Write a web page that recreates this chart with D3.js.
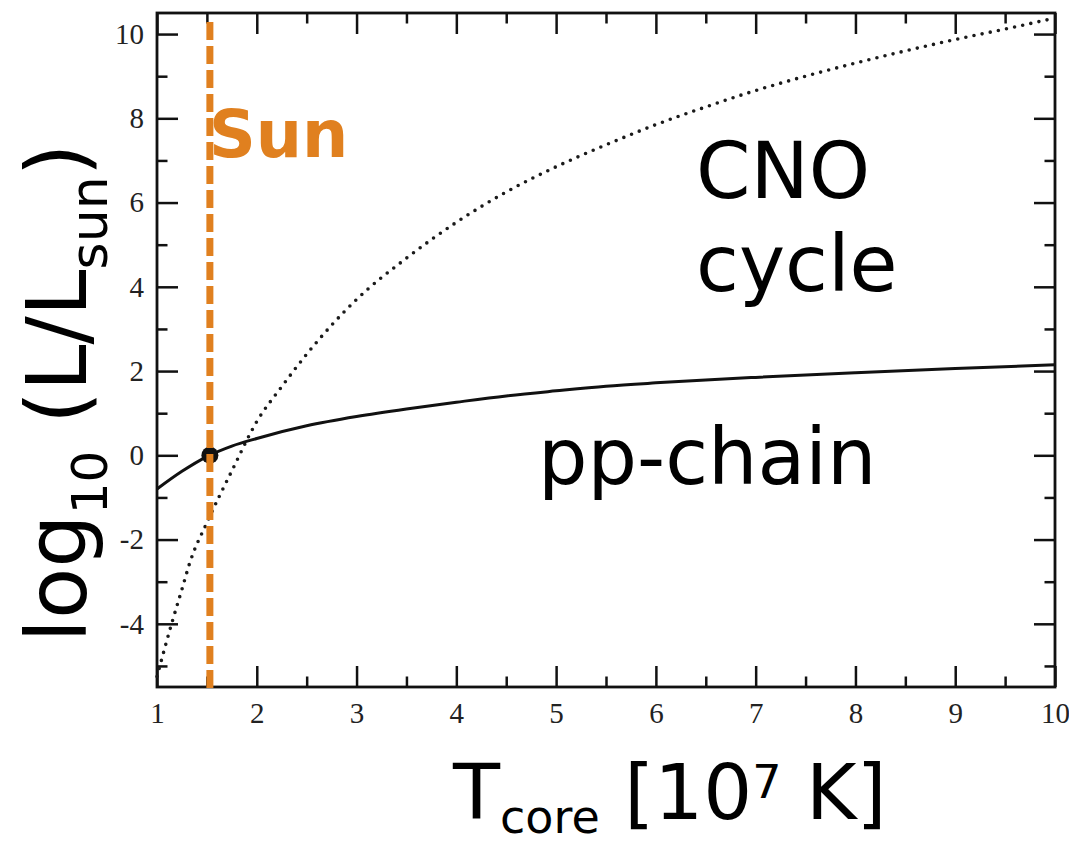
<!DOCTYPE html>
<html>
<head>
<meta charset="utf-8">
<script src="https://cdn.jsdelivr.net/npm/d3@7"></script>
<style>
  html, body { margin: 0; padding: 0; background: #fff; }
  svg { display: block; }
</style>
</head>
<body>
<div id="chart"></div>
<script>
// core temperature in units of 1e7 K
var tempPP = [1.0, 1.25, 1.5, 1.75, 2.0, 2.5, 3.0, 3.5, 4.0, 4.5, 5.0, 5.5, 6.0, 7.0, 8.0, 9.0, 10.0];
var lumPP = [-0.80, -0.38, -0.03, 0.22, 0.40, 0.70, 0.92, 1.10, 1.26, 1.41, 1.53, 1.64, 1.72, 1.85, 1.96, 2.06, 2.15];

var tempCNO = [1.0, 1.15, 1.25, 1.33, 1.5, 1.75, 2.0, 2.25, 2.5, 3.0, 3.5, 4.0, 4.5, 5.0, 5.5, 6.0, 6.5, 7.0, 7.5, 8.0, 8.5, 9.0, 9.5, 10.0];
var lumCNO = [-5.25, -3.97, -3.18, -2.54, -1.60, -0.37, 0.80, 1.63, 2.40, 3.70, 4.68, 5.53, 6.25, 6.85, 7.37, 7.85, 8.27, 8.66, 9.00, 9.31, 9.60, 9.87, 10.12, 10.38];

var sunTemp = 1.53;
var sunLum = 0;

var xTicks = [1, 2, 3, 4, 5, 6, 7, 8, 9, 10];
var xMinorTicks = [1.5, 2.5, 3.5, 4.5, 5.5, 6.5, 7.5, 8.5, 9.5];
var yTicks = [-4, -2, 0, 2, 4, 6, 8, 10];
var yTickLabels = ["-4", "-2", "0", "2", "4", "6", "8", "10"];
var yMinorTicks = [-5, -3, -1, 1, 3, 5, 7, 9];

var W = 1069, H = 841;
var plotLeft = 157, plotRight = 1055, plotTop = 13, plotBottom = 687;
var orange = "#e0801f";

var svg = d3.select("#chart")
  .append("svg")
  .attr("width", W)
  .attr("height", H);

var x = d3.scaleLinear().domain([1, 10]).range([plotLeft, plotRight]);
var y = d3.scaleLinear().domain([-5.5, 10.5]).range([plotBottom, plotTop]);

// ticks on all four sides, pointing inward
function styleAxis(g) {
  g.select(".domain").remove();
  g.selectAll(".tick line").attr("stroke", "#111").attr("stroke-width", 2.5);
  g.selectAll(".tick text")
    .attr("fill", "#222")
    .attr("font-family", "'Liberation Serif', 'Times New Roman', serif")
    .attr("font-size", "29px");
}

svg.append("g")
  .attr("transform", "translate(0," + plotBottom + ")")
  .call(d3.axisBottom(x).tickValues(xTicks).tickSize(-21).tickPadding(15).tickFormat(d3.format("d")))
  .call(styleAxis);
svg.append("g")
  .attr("transform", "translate(0," + plotBottom + ")")
  .call(d3.axisBottom(x).tickValues(xMinorTicks).tickSize(-10.5).tickFormat(""))
  .call(styleAxis);

svg.append("g")
  .attr("transform", "translate(0," + plotTop + ")")
  .call(d3.axisTop(x).tickValues(xTicks).tickSize(-21).tickFormat(""))
  .call(styleAxis);
svg.append("g")
  .attr("transform", "translate(0," + plotTop + ")")
  .call(d3.axisTop(x).tickValues(xMinorTicks).tickSize(-10.5).tickFormat(""))
  .call(styleAxis);

svg.append("g")
  .attr("transform", "translate(" + plotLeft + ",0)")
  .call(d3.axisLeft(y).tickValues(yTicks).tickSize(-21).tickPadding(13)
    .tickFormat(function (d, i) { return yTickLabels[i]; }))
  .call(styleAxis);
svg.append("g")
  .attr("transform", "translate(" + plotLeft + ",0)")
  .call(d3.axisLeft(y).tickValues(yMinorTicks).tickSize(-10.5).tickFormat(""))
  .call(styleAxis);

svg.append("g")
  .attr("transform", "translate(" + plotRight + ",0)")
  .call(d3.axisRight(y).tickValues(yTicks).tickSize(-21).tickFormat(""))
  .call(styleAxis);
svg.append("g")
  .attr("transform", "translate(" + plotRight + ",0)")
  .call(d3.axisRight(y).tickValues(yMinorTicks).tickSize(-10.5).tickFormat(""))
  .call(styleAxis);

// frame
svg.append("rect")
  .attr("x", plotLeft)
  .attr("y", plotTop)
  .attr("width", plotRight - plotLeft)
  .attr("height", plotBottom - plotTop)
  .attr("fill", "none")
  .attr("stroke", "#111")
  .attr("stroke-width", 2.8);

var line = d3.line()
  .x(function (d) { return x(d[0]); })
  .y(function (d) { return y(d[1]); })
  .curve(d3.curveMonotoneX);

// CNO cycle (dotted)
svg.append("path")
  .datum(d3.zip(tempCNO, lumCNO))
  .attr("d", line)
  .attr("fill", "none")
  .attr("stroke", "#1a1a1a")
  .attr("stroke-width", 3.6)
  .attr("stroke-linecap", "round")
  .attr("stroke-dasharray", "0 8.3");

// pp-chain (solid)
svg.append("path")
  .datum(d3.zip(tempPP, lumPP))
  .attr("d", line)
  .attr("fill", "none")
  .attr("stroke", "#111")
  .attr("stroke-width", 3);

// the Sun
svg.append("circle")
  .attr("cx", x(sunTemp))
  .attr("cy", y(sunLum))
  .attr("r", 8.5)
  .attr("fill", "#111");

svg.append("line")
  .attr("x1", x(sunTemp))
  .attr("x2", x(sunTemp))
  .attr("y1", 22)
  .attr("y2", plotBottom + 3)
  .attr("stroke", orange)
  .attr("stroke-width", 7)
  .attr("stroke-dasharray", "18 6");

var sans = "'DejaVu Sans', Verdana, sans-serif";

svg.append("text")
  .attr("x", 209)
  .attr("y", 157)
  .attr("font-family", sans)
  .attr("font-weight", "bold")
  .attr("font-size", "65px")
  .attr("fill", orange)
  .text("Sun");

svg.append("text")
  .attr("x", 696)
  .attr("y", 198)
  .attr("font-family", sans)
  .attr("font-size", "78px")
  .attr("fill", "#000")
  .text("CNO");
svg.append("text")
  .attr("x", 696)
  .attr("y", 291)
  .attr("font-family", sans)
  .attr("font-size", "78px")
  .attr("fill", "#000")
  .text("cycle");
svg.append("text")
  .attr("x", 538)
  .attr("y", 484)
  .attr("font-family", sans)
  .attr("font-size", "78px")
  .attr("fill", "#000")
  .text("pp-chain");

// x label
var xl = svg.append("text")
  .attr("x", 453)
  .attr("y", 819)
  .attr("font-family", sans)
  .attr("font-size", "77px")
  .attr("fill", "#000");
xl.append("tspan").text("T");
xl.append("tspan").attr("font-size", "46px").attr("dy", 14).text("core");
xl.append("tspan").attr("dy", -14).text(" [10");
xl.append("tspan").attr("font-size", "46px").attr("dy", -21).text("7");
xl.append("tspan").attr("dy", 21).text(" K]");

// y label
var yl = svg.append("text")
  .attr("transform", "translate(86,393) rotate(-90)")
  .attr("text-anchor", "middle")
  .attr("font-family", sans)
  .attr("font-size", "84px")
  .attr("fill", "#000");
yl.append("tspan").text("log");
yl.append("tspan").attr("font-size", "50px").attr("dy", 21).text("10");
yl.append("tspan").attr("dy", -21).text(" (L/L");
yl.append("tspan").attr("font-size", "52px").attr("dy", 21).text("sun");
yl.append("tspan").attr("dy", -21).text(")");
</script>
</body>
</html>
